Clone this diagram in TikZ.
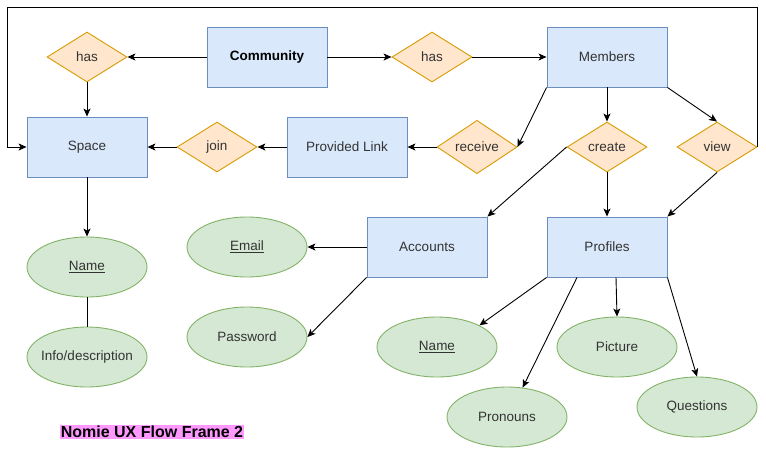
\documentclass[tikz,border=0pt]{standalone}
\usepackage{fontspec}
\setmainfont{Liberation Sans}
\usetikzlibrary{shapes.geometric,arrows.meta}
\definecolor{entfill}{HTML}{DAE8FC}
\definecolor{entline}{HTML}{6C8EBF}
\definecolor{relfill}{HTML}{FFE6CC}
\definecolor{relline}{HTML}{D79B00}
\definecolor{attfill}{HTML}{D5E8D4}
\definecolor{attline}{HTML}{82B366}
\definecolor{txtgray}{HTML}{333333}
\definecolor{titlepink}{HTML}{FF99FF}
\tikzstyle{entity} = [draw=entline, fill=entfill, minimum width=120pt, minimum height=60pt, inner sep=0pt, text=txtgray]
\tikzstyle{relation} = [diamond, draw=relline, fill=relfill, minimum width=80pt, minimum height=50pt, inner sep=0pt, text=txtgray]
\tikzstyle{attrib} = [ellipse, draw=attline, fill=attfill, minimum width=120pt, minimum height=60pt, inner sep=0pt, inner xsep=-12pt, text=txtgray]
\tikzstyle{arrow} = [-{Stealth[length=8pt,width=7pt,inset=2pt]}]

\begin{document}
\begin{tikzpicture}[x=1pt,y=-1pt,line width=0.9pt,font=\fontsize{13.5}{15}\selectfont]
            \useasboundingbox (0,0) rectangle (766,448);
            % entities
            \node[entity,text=black,font=\fontsize{13.5}{15}\selectfont\bfseries] (comm) at (267,57) {Community};
            \node[entity] (memb) at (607,57) {Members};
            \node[entity] (space) at (87,147) {Space};
            \node[entity] (link) at (347,147) {Provided Link};
            \node[entity] (acc) at (427,247) {Accounts};
            \node[entity] (prof) at (607,247) {Profiles};
            % relations
            \node[relation] (hasA) at (87,57) {has};
            \node[relation] (hasB) at (432,57) {has};
            \node[relation] (join) at (217,147) {join};
            \node[relation] (recv) at (477,147) {receive};
            \node[relation] (create) at (607,147) {create};
            \node[relation] (view) at (717,147) {view};
            % attributes
            \node[attrib] (sname) at (87,267) {\underline{Name}};
            \node[attrib] (info) at (87,357) {Info/description};
            \node[attrib] (email) at (247,247) {\underline{Email}};
            \node[attrib] (pw) at (247,337) {Password};
            \node[attrib] (pname) at (437,347) {\underline{Name}};
            \node[attrib] (pron) at (507,417) {Pronouns};
            \node[attrib] (pic) at (617,347) {Picture};
            \node[attrib] (quest) at (697,407) {Questions};
            \node[fill=titlepink,inner sep=1pt,font=\fontsize{16}{18}\selectfont\bfseries] (title) at (152,432) {Nomie UX Flow Frame 2};
            \coordinate (corner) at (7,7);
            % connectors
            \draw[arrow] (comm) -- (hasA);
            \draw[arrow] (hasA) -- (space);
            \draw[arrow] (comm) -- (hasB);
            \draw[arrow] (hasB) -- (memb);
            \draw[arrow] (memb.south west) -- (recv.east);
            \draw[arrow] (memb) -- (create);
            \draw[arrow] (memb.south east) -- (view.north);
            \draw[arrow] (recv) -- (link);
            \draw[arrow] (link) -- (join);
            \draw[arrow] (join) -- (space);
            \draw[arrow] (view.east) |- (corner) |- (space.west);
            \draw[arrow] (create.west) -- (acc.north east);
            \draw[arrow] (create) -- (prof);
            \draw[arrow] (view.south) -- (prof.north east);
            \draw[arrow] (space) -- (sname);
            \draw (sname) -- (info);
            \draw[arrow] (acc) -- (email);
            \draw[arrow] (acc.south west) -- (pw.east);
            \draw[arrow] (prof.south west) -- (pname.27);
            \draw[arrow] ([xshift=-30pt]prof.south) -- (pron.62);
            \draw[arrow] ([xshift=9pt]prof.south) -- (pic.north);
            \draw[arrow] (prof.south east) -- (quest.north);
\end{tikzpicture}
\end{document}
